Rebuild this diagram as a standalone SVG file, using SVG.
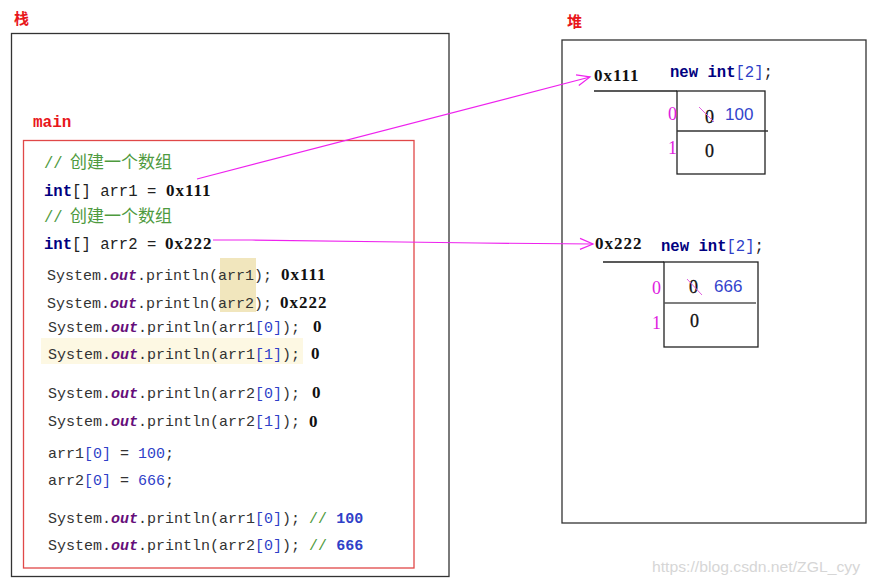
<svg xmlns="http://www.w3.org/2000/svg" width="869" height="584" viewBox="0 0 869 584">
<style>
.code{font-family:"Liberation Mono",monospace;font-size:15px;fill:#333}
.code2{font-family:"Liberation Mono",monospace;font-size:15.6px;fill:#222}
.out{font-weight:bold;font-style:italic;fill:#660e7a}
.kw{font-weight:bold;fill:#000080}
.num{fill:#2f3fc8}
.cm{fill:#4e9a3e}
.cjk{font-family:"Noto Sans CJK SC",sans-serif;font-size:17px;fill:#4e9a3e}
.val{font-family:"Liberation Serif",serif;font-size:17px;font-weight:bold;fill:#111;letter-spacing:1px}
.title{font-family:"Noto Sans CJK SC",sans-serif;font-size:15px;font-weight:bold;fill:#e8161b}
.idx{font-family:"Liberation Serif",serif;font-size:18px;fill:#e020e0}
.cell{font-family:"Liberation Serif",serif;font-size:18px;fill:#111;stroke:#111;stroke-width:0.3}
.bv{font-family:"Liberation Sans",sans-serif;font-size:17px;fill:#3344cc}
.frame{fill:none;stroke:#333;stroke-width:1.3}
.link{fill:none;stroke:#ee22ee;stroke-width:1.2}
.strike{stroke:#e060e0;stroke-width:1}
</style>
<defs>
<marker id="arr" viewBox="-14 -7 16 14" refX="0" refY="0" markerWidth="16" markerHeight="14" markerUnits="userSpaceOnUse" orient="auto">
<path d="M-13,-5.5 L0,0 L-13,5.5" fill="none" stroke="#ee22ee" stroke-width="1.2"/>
</marker>
</defs>
<rect width="869" height="584" fill="#fff"/>

<g id="stack">
<text class="title" x="14" y="24">栈</text>
<rect class="frame" x="11.5" y="33.5" width="437.5" height="543"/>
</g>

<g id="main-frame">
<text x="33" y="127" font-family="Liberation Mono,monospace" font-size="16" font-weight="bold" fill="#e8161b">main</text>
<rect x="23.5" y="140.5" width="390.5" height="427.5" fill="none" stroke="#e04848" stroke-width="1.3"/>
<rect x="220" y="258" width="36" height="54" fill="#f1e6bd"/>
<rect x="41" y="338" width="262" height="26" fill="#fdf8e3"/>
<text class="code2" x="44" y="168"><tspan class="cm">//</tspan></text>
<text class="cjk" x="70" y="168">创建一个数组</text>
<text class="code2" x="44" y="196"><tspan class="kw">int</tspan>[] arr1 =</text>
<text class="val" x="166" y="196">0x111</text>
<text class="code2" x="44" y="222"><tspan class="cm">//</tspan></text>
<text class="cjk" x="70" y="222">创建一个数组</text>
<text class="code2" x="44" y="249"><tspan class="kw">int</tspan>[] arr2 =</text>
<text class="val" x="165" y="249">0x222</text>

<text class="code" x="47" y="280">System.<tspan class="out">out</tspan>.println(arr1);</text>
<text class="val" x="281" y="280">0x111</text>
<text class="code" x="47" y="308">System.<tspan class="out">out</tspan>.println(arr2);</text>
<text class="val" x="280" y="308">0x222</text>
<text class="code" x="48" y="332">System.<tspan class="out">out</tspan>.println(arr1<tspan class="num">[0]</tspan>);</text>
<text class="val" x="313" y="332">0</text>
<text class="code" x="48" y="359">System.<tspan class="out">out</tspan>.println(arr1<tspan class="num">[1]</tspan>);</text>
<text class="val" x="311" y="359">0</text>
<text class="code" x="48" y="398">System.<tspan class="out">out</tspan>.println(arr2<tspan class="num">[0]</tspan>);</text>
<text class="val" x="312" y="398">0</text>
<text class="code" x="48" y="426">System.<tspan class="out">out</tspan>.println(arr2<tspan class="num">[1]</tspan>);</text>
<text class="val" x="309" y="427">0</text>
<text class="code" x="48" y="458">arr1<tspan class="num">[0]</tspan> = <tspan class="num">100</tspan>;</text>
<text class="code" x="48" y="485">arr2<tspan class="num">[0]</tspan> = <tspan class="num">666</tspan>;</text>
<text class="code" x="48" y="523">System.<tspan class="out">out</tspan>.println(arr1<tspan class="num">[0]</tspan>); <tspan class="cm">//</tspan> <tspan class="num" font-weight="bold" fill="#2233aa">100</tspan></text>
<text class="code" x="48" y="550">System.<tspan class="out">out</tspan>.println(arr2<tspan class="num">[0]</tspan>); <tspan class="cm">//</tspan> <tspan class="num" font-weight="bold" fill="#2233aa">666</tspan></text>
</g>

<g id="heap">
<text class="title" x="567" y="27">堆</text>
<rect class="frame" x="562" y="40" width="304" height="483"/>
</g>

<g id="array1">
<text class="val" x="594" y="81">0x111</text>
<text class="code2" x="670" y="77"><tspan class="kw">new int</tspan><tspan class="num">[2]</tspan>;</text>
<line x1="594" y1="91" x2="677" y2="91" stroke="#222" stroke-width="1.3"/>
<rect x="677" y="91" width="88" height="83" fill="none" stroke="#222" stroke-width="1.3"/>
<line x1="677" y1="131" x2="768" y2="131" stroke="#333" stroke-width="1.3"/>
<text class="idx" x="668" y="120">0</text>
<text class="idx" x="668" y="154">1</text>
<text class="cell" x="705" y="123">0</text>
<line class="strike" x1="699" y1="107" x2="714" y2="122"/>
<text class="bv" x="725" y="120">100</text>
<text class="cell" x="705" y="157">0</text>
</g>

<g id="array2">
<text class="val" x="595" y="249">0x222</text>
<text class="code2" x="661" y="251"><tspan class="kw">new int</tspan><tspan class="num">[2]</tspan>;</text>
<line x1="603" y1="262" x2="664" y2="262" stroke="#222" stroke-width="1.3"/>
<rect x="664" y="262" width="94" height="85" fill="none" stroke="#222" stroke-width="1.3"/>
<line x1="664" y1="303" x2="756" y2="303" stroke="#555" stroke-width="1.3"/>
<text class="idx" x="652" y="294">0</text>
<text class="idx" x="652" y="329">1</text>
<text class="cell" x="689" y="293">0</text>
<line class="strike" x1="687" y1="279" x2="702" y2="295"/>
<text class="bv" x="714" y="292">666</text>
<text class="cell" x="690" y="327">0</text>
</g>

<g id="connectors">
<line class="link" x1="197" y1="179" x2="590" y2="77" marker-end="url(#arr)"/>
<polyline class="link" points="213,240 252,240 402,242 478,243 593,244" marker-end="url(#arr)"/>
</g>

<text x="652" y="572" font-family="Liberation Sans,sans-serif" font-size="15" fill="#d6d6d6" textLength="208" lengthAdjust="spacingAndGlyphs">https://blog.csdn.net/ZGL_cyy</text>
</svg>
